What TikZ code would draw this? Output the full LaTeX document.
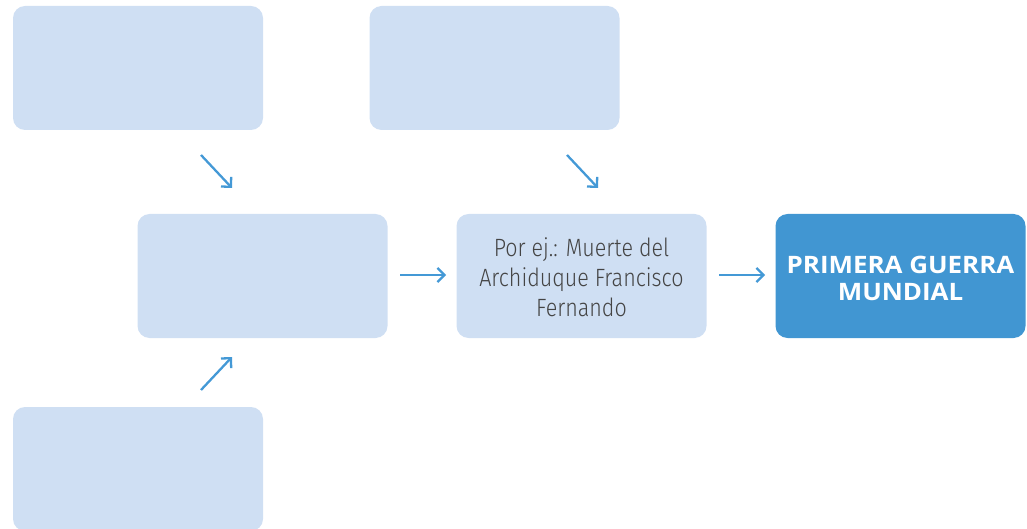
\documentclass[tikz,border=0pt]{standalone}
\usepackage{fontspec}
\setmainfont{Fira Sans}
\newfontfamily\lightfont[FakeStretch=0.86]{Fira Sans Light}
\newfontfamily\boldfont[FakeStretch=1.08]{Open Sans Bold}
\usetikzlibrary{arrows.meta}
\definecolor{lightbox}{HTML}{CFDFF3}
\definecolor{darkbox}{HTML}{4196D2}
\definecolor{arrowc}{HTML}{4499D6}
\definecolor{txt}{HTML}{444444}
\tikzset{
  lbox/.style={fill=lightbox, rounded corners=12pt, minimum width=250pt, minimum height=124pt, inner sep=0pt, align=center},
  dbox/.style={fill=darkbox, rounded corners=12pt, minimum width=250pt, minimum height=124pt, inner sep=0pt, align=center},
  arr/.style={draw=arrowc, line width=2.3pt, -{Straight Barb[length=7pt, width=14pt, line width=2.3pt]}}
}
\begin{document}
\begin{tikzpicture}[x=1pt,y=-1pt]
\useasboundingbox (0,0) rectangle (1027,529);
\node[lbox] (tl) at (138,68) {};
\node[lbox] (tr) at (494.5,68) {};
\node[lbox] (ml) at (262.5,276) {};
\node[lbox] (mid) at (581.5,276) {};
\node[font=\lightfont\fontsize{25}{30}\selectfont, text=txt, align=center] (midt) at ([yshift=-1.5pt]mid.center) {Por ej.: Muerte del\\Archiduque Francisco\\Fernando};
\node[dbox] (pgm) at (900.5,276) {};
\node[font=\boldfont\fontsize{24}{27}\selectfont, text=white, align=center] (pgmt) at ([yshift=-2pt]pgm.center) {PRIMERA GUERRA\\MUNDIAL};
\node[lbox, minimum height=124pt] (bl) at (138,469) {};
\coordinate (a1s) at (201,155); \coordinate (a1e) at (232,188);
\coordinate (a2s) at (567,155); \coordinate (a2e) at (598,188);
\coordinate (a3s) at (400,275); \coordinate (a3e) at (446,275);
\coordinate (a4s) at (719,275); \coordinate (a4e) at (765,275);
\coordinate (a5s) at (201,390); \coordinate (a5e) at (232,357);
\draw[arr] (a1s) -- (a1e);
\draw[arr] (a2s) -- (a2e);
\draw[arr] (a3s) -- (a3e);
\draw[arr] (a4s) -- (a4e);
\draw[arr] (a5s) -- (a5e);
\end{tikzpicture}
\end{document}
